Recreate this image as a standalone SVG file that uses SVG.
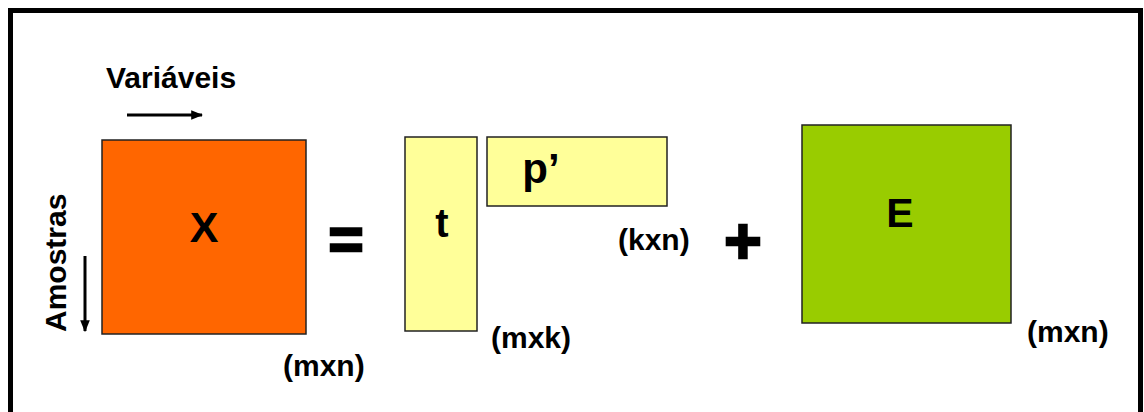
<svg xmlns="http://www.w3.org/2000/svg" width="1144" height="412" viewBox="0 0 1144 412">
<style>
  .lbl { font-family: "Liberation Sans", Arial, sans-serif; font-weight: bold; fill: #000; }
  .dim { font-size: 30px; }
  .box { stroke: #222; stroke-width: 1.5; }
  .sym { font-family: "Liberation Sans", Arial, sans-serif; font-weight: bold; fill: #000; stroke: #000; stroke-width: 2.5; }
</style>
<defs>
  <marker id="ah" viewBox="0 0 10 10" refX="9" refY="5" markerWidth="4" markerHeight="4" orient="auto" markerUnits="strokeWidth">
    <path d="M0,1 L10,5 L0,9 z" fill="#000"/>
  </marker>
</defs>
<rect x="10.5" y="10.5" width="1130" height="420" fill="#fff" stroke="#000" stroke-width="5"/>

<g id="connectors">
  <line x1="127" y1="115" x2="202" y2="115" stroke="#000" stroke-width="3" marker-end="url(#ah)"/>
  <line x1="85" y1="256" x2="85" y2="331" stroke="#000" stroke-width="3" marker-end="url(#ah)"/>
</g>

<g id="label-variaveis"><text class="lbl" x="106" y="88" font-size="30">Variáveis</text></g>
<g id="label-amostras"><text class="lbl" transform="translate(66,332) rotate(-90)" font-size="30">Amostras</text></g>

<g id="node-X">
  <rect class="box" x="102" y="140" width="204" height="194" fill="#FF6600"/>
  <text class="lbl" x="204" y="242" font-size="43" text-anchor="middle">X</text>
  <text class="lbl dim" x="283" y="376">(mxn)</text>
</g>

<g id="sym-eq"><text class="sym" x="346" y="259" font-size="60" text-anchor="middle">=</text></g>

<g id="node-t">
  <rect class="box" x="405" y="137" width="72" height="194" fill="#FFFF99"/>
  <text class="lbl" x="442" y="237" font-size="40" text-anchor="middle">t</text>
  <text class="lbl dim" x="491" y="348">(mxk)</text>
</g>

<g id="node-p">
  <rect class="box" x="487" y="137" width="180" height="69" fill="#FFFF99"/>
  <text class="lbl" x="541" y="183" font-size="42" text-anchor="middle">p’</text>
  <text class="lbl dim" x="618" y="250">(kxn)</text>
</g>

<g id="sym-plus"><text class="sym" x="743" y="263" font-size="64" text-anchor="middle">+</text></g>

<g id="node-E">
  <rect class="box" x="802" y="125" width="209" height="198" fill="#99CC00"/>
  <text class="lbl" x="900" y="227" font-size="41" text-anchor="middle">E</text>
  <text class="lbl dim" x="1027" y="342">(mxn)</text>
</g>
</svg>
